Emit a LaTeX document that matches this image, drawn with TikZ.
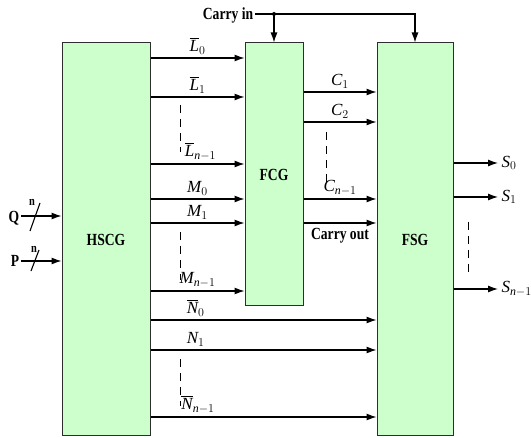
\documentclass[tikz,border=0pt]{standalone}
\usepackage{fontspec}
\setmainfont{Liberation Serif}
\newfontfamily\narrowserif[FakeStretch=0.8]{Liberation Serif}
\usepackage{amsmath}
\usepackage{xcolor}
\usetikzlibrary{arrows.meta}
\definecolor{blockgreen}{RGB}{204, 255, 204}
\definecolor{edgegray}{RGB}{45, 45, 45}

\begin{document}
\begin{tikzpicture}[x=1pt, y=-1pt,
    every node/.style={font=\fontsize{17}{19}\selectfont},
    block/.style={draw=edgegray, fill=blockgreen, line width=1pt, font=\fontsize{17}{19}\narrowserif\bfseries},
    tag/.style={font=\fontsize{17}{19}\narrowserif\bfseries, inner sep=2pt},
    sig/.style={line width=1.1pt, -{Latex[length=10pt, width=7pt]}},
    wire/.style={line width=1.1pt},
    gap/.style={line width=0.9pt, dash pattern=on 8pt off 6pt}]
    \useasboundingbox (0,0) rectangle (531,438);

    % blocks
    \node[block, minimum width=88pt, minimum height=393pt] (hscg) at (106,239.5) {HSCG};
    \node[block, minimum width=58pt, minimum height=263pt] (fcg) at (274,174.5) {FCG};
    \node[block, minimum width=76pt, minimum height=393pt] (fsg) at (415,239.5) {FSG};

    % carry in
    \node[tag] (cin) at (228,15) {Carry in};
    \draw[sig] (cin.east |- 0,14) -- (fsg.north |- 0,14) -- (fsg.north);
    \draw[sig] (fcg.north |- 0,14) -- (fcg.north);
    \fill (fcg.north |- 0,14) circle (2pt);

    % inputs Q and P
    \node[tag] (q) at (14,218) {Q};
    \node[tag] (p) at (15,261) {P};
    \draw[sig] (q.east |- 0,216) -- (hscg.west |- 0,216);
    \draw[sig] (p.east) -- (hscg.west |- p.east);
    \draw[wire] (30,231) -- (40,203);
    \draw[wire] (31,271) -- (39,250);
    \node[tag, font=\fontsize{13}{14}\narrowserif\bfseries] (qn) at (32,202) {n};
    \node[tag, font=\fontsize{13}{14}\narrowserif\bfseries] (pn) at (34,249) {n};

    % HSCG to FCG
    \draw[sig] (hscg.east |- 0,58) -- node[above] {$\overline{\mathit{L}}_0$} (fcg.west |- 0,58);
    \draw[sig] (hscg.east |- 0,97) -- node[above] {$\overline{\mathit{L}}_1$} (fcg.west |- 0,97);
    \draw[sig] (hscg.east |- 0,164) -- node[above, xshift=3pt] {$\overline{\mathit{L}}_{\mathit{n}-1}$} (fcg.west |- 0,164);
    \draw[sig] (hscg.east |- 0,199) -- node[above] {$\mathit{M}_0$} (fcg.west |- 0,199);
    \draw[sig] (hscg.east |- 0,223) -- node[above] {$\mathit{M}_1$} (fcg.west |- 0,223);
    \draw[sig] (hscg.east |- 0,291) -- node[above] {$\mathit{M}_{\mathit{n}-1}$} (fcg.west |- 0,291);

    % HSCG to FSG
    \draw[sig] (hscg.east |- 0,320) -- node[above, pos=0.2] {$\overline{\mathit{N}}_0$} (fsg.west |- 0,320);
    \draw[sig] (hscg.east |- 0,350) -- node[above, pos=0.2] {$\mathit{N}_1$} (fsg.west |- 0,350);
    \draw[sig] (hscg.east |- 0,417) -- node[above, pos=0.21] {$\overline{\mathit{N}}_{\mathit{n}-1}$} (fsg.west |- 0,417);

    % FCG to FSG
    \draw[sig] (fcg.east |- 0,92) -- node[above] {$\mathit{C}_1$} (fsg.west |- 0,92);
    \draw[sig] (fcg.east |- 0,122) -- node[above] {$\mathit{C}_2$} (fsg.west |- 0,122);
    \draw[sig] (fcg.east |- 0,199) -- node[above] {$\mathit{C}_{\mathit{n}-1}$} (fsg.west |- 0,199);
    \draw[sig] (fcg.east |- 0,223) -- node[tag, below=3pt] {Carry out} (fsg.west |- 0,223);

    % outputs
    \node[anchor=west] (s0) at (498,163) {$\mathit{S}_0$};
    \node[anchor=west] (s1) at (498,197) {$\mathit{S}_1$};
    \node[anchor=west] (sn) at (498,289) {$\mathit{S}_{\mathit{n}-1}$};
    \draw[sig] (fsg.east |- s0.west) -- (s0.west);
    \draw[sig] (fsg.east |- s1.west) -- (s1.west);
    \draw[sig] (fsg.east |- sn.west) -- (sn.west);

    % gaps
    \draw[gap] (180,105) -- (180,152);
    \draw[gap] (180,232) -- (180,280);
    \draw[gap] (180,359) -- (180,406);
    \draw[gap] (326,132) -- (326,186);
    \draw[gap] (468,222) -- (468,276);
\end{tikzpicture}
\end{document}
